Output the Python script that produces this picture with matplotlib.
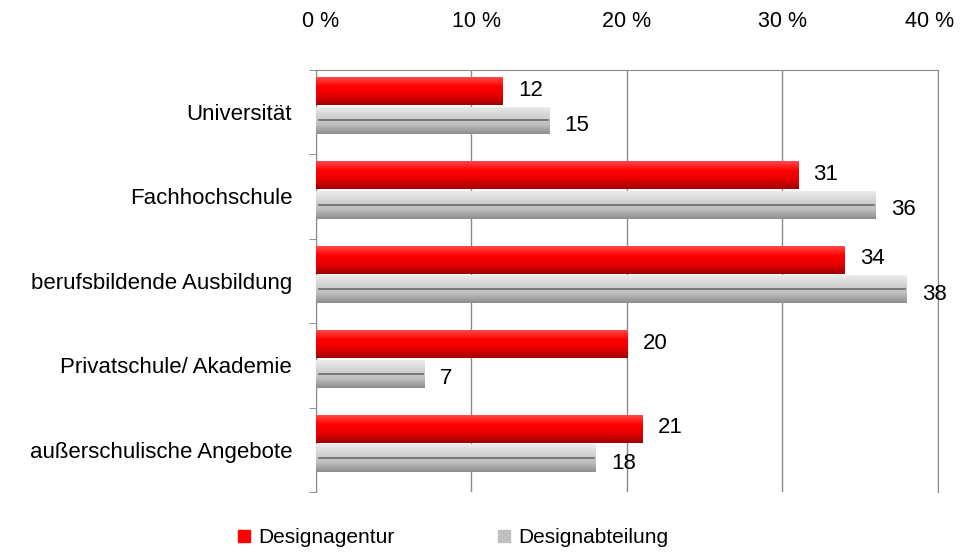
import numpy as np
import matplotlib.pyplot as plt
import matplotlib.transforms as mtransforms
from matplotlib.colors import LinearSegmentedColormap
from matplotlib.patches import Patch

plt.rcParams['font.family'] = ['Liberation Sans', 'DejaVu Sans']

# Data
categories = ['Universität', 'Fachhochschule', 'berufsbildende Ausbildung',
              'Privatschule/ Akademie', 'außerschulische Angebote']
agentur = [12, 31, 34, 20, 21]
abteilung = [15, 36, 38, 7, 18]
series_names = ['Designagentur', 'Designabteilung']
xticks = [0, 10, 20, 30, 40]

fig = plt.figure(figsize=(9.6, 5.54), dpi=100)
ax = fig.add_axes([0.329, 0.112, 0.648, 0.762])

y = np.arange(len(categories))
h = 0.33

red_cmap = LinearSegmentedColormap.from_list('r', ['#ff4a4a', '#ff0000', '#e60000', '#a00000'])
gray_cmap = LinearSegmentedColormap.from_list('g', ['#ececec', '#d4d4d4', '#bdbdbd', '#8e8e8e'])
grad = np.linspace(0, 1, 64).reshape(-1, 1)

def draw_bars(vals, offset, cmap):
    bars = ax.barh(y + offset, vals, height=h, color='none', edgecolor='none', zorder=3)
    for b in bars:
        x0, y0 = b.get_x(), b.get_y()
        w, hh = b.get_width(), b.get_height()
        im = ax.imshow(grad, cmap=cmap, aspect='auto', zorder=3,
                       extent=[x0, x0 + w, y0 + hh, y0], interpolation='bilinear')
        im.set_clip_path(b)
    return bars

draw_bars(agentur, -0.25, red_cmap)
gray_bars = draw_bars(abteilung, 0.10, gray_cmap)
for b in gray_bars:
    yc = b.get_y() + b.get_height() / 2
    ax.plot([0.2, b.get_width() - 0.1], [yc, yc], color='#6a6a6a', lw=1.2, zorder=4)

for i in range(len(categories)):
    ax.text(agentur[i] + 1.0, y[i] - 0.26, str(agentur[i]), va='center', ha='left', fontsize=16)
    ax.text(abteilung[i] + 1.0, y[i] + 0.16, str(abteilung[i]), va='center', ha='left', fontsize=16)

ax.set_xlim(0, 40)
ax.set_ylim(len(categories) - 0.5, -0.5)
ax.set_xticks(xticks)
ax.set_xticklabels([f'{t} %' for t in xticks], fontsize=15.5)
ax.xaxis.tick_top()
ax.tick_params(axis='x', length=0, pad=27)
# last label pulled in a little so it stays inside the figure
shifts = [5, 5, 0, 0, -8]
for lab, dx in zip(ax.get_xticklabels(), shifts):
    lab.set_transform(lab.get_transform() + mtransforms.ScaledTranslation(dx / 100, 0, fig.dpi_scale_trans))
ax.set_yticks(y)
ax.set_yticklabels(categories, fontsize=16)
ax.set_yticks(np.arange(len(categories) + 1) - 0.5, minor=True)
ax.tick_params(axis='y', which='major', length=0, pad=17)
ax.tick_params(axis='y', which='minor', length=5, color='#808080', direction='out')
ax.grid(axis='x', color='#8a8a8a', lw=1, zorder=0)
ax.set_axisbelow(True)
for s in ['top', 'right', 'left']:
    ax.spines[s].set_color('#8a8a8a')
ax.spines['bottom'].set_visible(False)

handles = [Patch(color='#ff0000'), Patch(color='#c0c0c0')]
fig.legend(handles, series_names, loc='lower center', bbox_to_anchor=(0.472, -0.022), ncol=2,
           frameon=False, fontsize=15, handlelength=0.55, handleheight=0.55,
           handletextpad=0.4, columnspacing=5.0)

fig.savefig('out.png', dpi=100)
